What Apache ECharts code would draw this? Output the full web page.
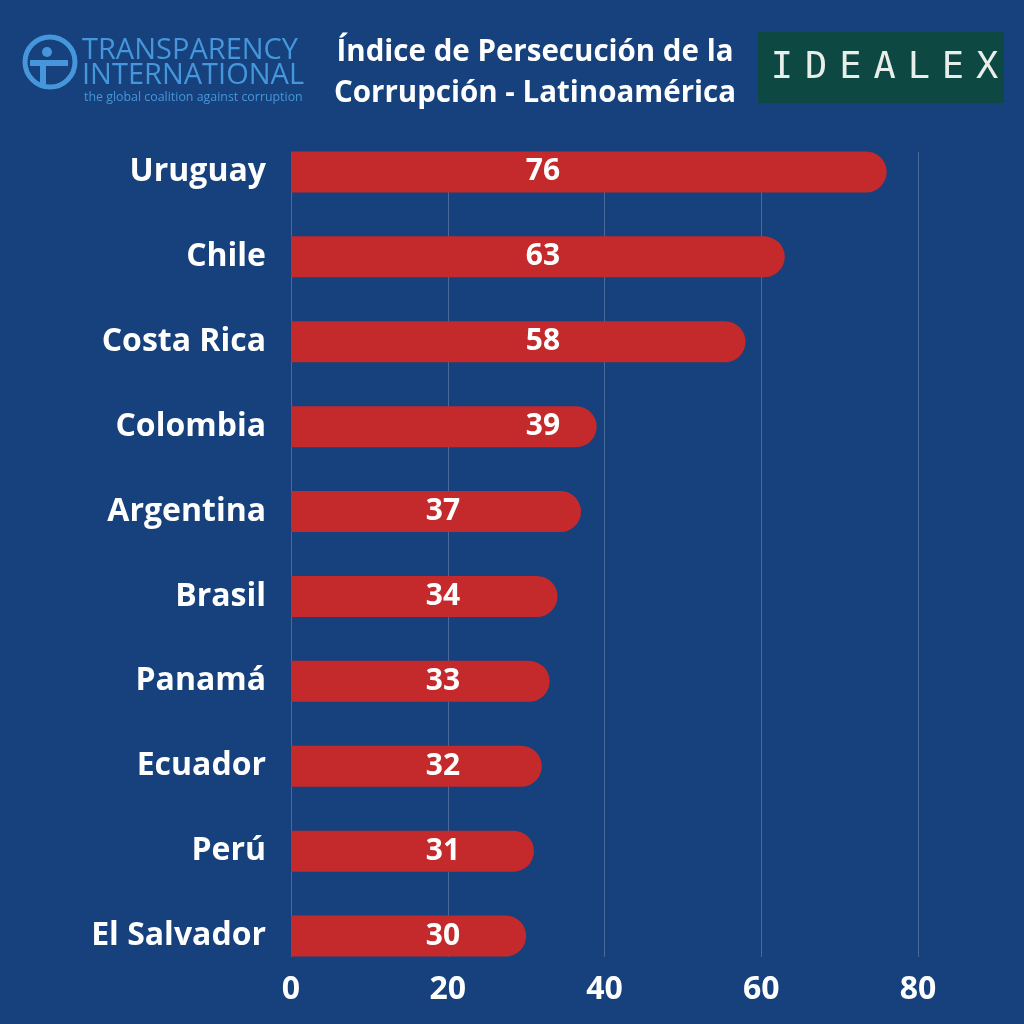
<!DOCTYPE html>
<html><head><meta charset="utf-8">
<script src="https://cdn.jsdelivr.net/npm/echarts@6/dist/echarts.min.js"></script>
<style>html,body{margin:0;padding:0;background:#16417C}#c{width:1024px;height:1024px}</style>
</head><body><div id="c"></div>
<script>
const categories = ['Uruguay','Chile','Costa Rica','Colombia','Argentina','Brasil','Panamá','Ecuador','Perú','El Salvador'];
const values = [76,63,58,39,37,34,33,32,31,30];
const titleLines = ['Índice de Persecución de la','Corrupción - Latinoamérica'];
const xTicks = [0,20,40,60,80];
const logoRight = 'IDEALEX';

const chart = echarts.init(document.getElementById('c'));
const bg = '#16417C', barColor = '#C4292B', tiBlue = '#4596DA';
const font = '"Open Sans", sans-serif';

const data = values.map(v => ({
  value: v,
  label: { position: [v >= 38 ? 252 : 152, '50%'] }
}));

const graphics = [
  { type: 'text', style: { x: 535, y: 53, text: titleLines[0], fill: '#fff', font: 'bold 29.5px ' + font, textAlign: 'center', textVerticalAlign: 'middle' } },
  { type: 'text', style: { x: 535, y: 94, text: titleLines[1], fill: '#fff', font: 'bold 29.5px ' + font, textAlign: 'center', textVerticalAlign: 'middle' } },
  { type: 'rect', shape: { x: 758, y: 32, width: 246, height: 71 }, style: { fill: '#0E4843' } },
  { type: 'circle', shape: { cx: 50, cy: 62, r: 25 }, style: { fill: 'none', stroke: tiBlue, lineWidth: 5 } },
  { type: 'circle', shape: { cx: 47, cy: 52, r: 5 }, style: { fill: tiBlue } },
  { type: 'rect', shape: { x: 40, y: 60, width: 6, height: 26 }, style: { fill: tiBlue } },
  { type: 'rect', shape: { x: 30, y: 60, width: 38, height: 6 }, style: { fill: tiBlue } },
  { type: 'text', style: { x: 82, y: 51, text: 'TRANSPARENCY', fill: tiBlue, font: '29px "Open Sans", sans-serif', textVerticalAlign: 'middle' } },
  { type: 'text', style: { x: 82, y: 76, text: 'INTERNATIONAL', fill: tiBlue, font: '29px "Open Sans", sans-serif', textVerticalAlign: 'middle' } },
  { type: 'text', style: { x: 84, y: 97, text: 'the global coalition against corruption', fill: tiBlue, font: '12.4px "Open Sans", sans-serif', textVerticalAlign: 'middle' } }
];
logoRight.split('').forEach((ch, i) => {
  graphics.push({ type: 'text', style: { x: 782 + i * 34.2, y: 68, text: ch, fill: '#E8EFEA',
    font: '37px "DejaVu Sans Mono", monospace', textAlign: 'center', textVerticalAlign: 'middle' } });
});

chart.setOption({
  backgroundColor: bg,
  animation: false,
  grid: [
    { left: 291, right: 106, top: 129.5, bottom: 45.5 },
    { left: 291, right: 106, top: 152, bottom: 67 }
  ],
  xAxis: [
    { gridIndex: 0, type: 'value', min: 0, max: 80, interval: 20, show: false },
    { gridIndex: 1, type: 'value', min: 0, max: 80, interval: 20,
      axisLine: { show: false }, axisTick: { show: false },
      splitLine: { show: true, lineStyle: { color: 'rgba(255,255,255,0.22)', width: 1 } },
      axisLabel: { color: '#fff', fontFamily: font, fontWeight: 'bold', fontSize: 32, margin: 17,
        formatter: v => xTicks.includes(v) ? String(v) : '' } }
  ],
  yAxis: [
    { gridIndex: 0, type: 'category', data: categories, inverse: true,
      axisLine: { show: false }, axisTick: { show: false },
      axisLabel: { color: '#fff', fontFamily: font, fontWeight: 'bold', fontSize: 32, margin: 25 } },
    { gridIndex: 1, type: 'value', show: false, min: 0, max: 1 }
  ],
  series: [{
    type: 'bar', xAxisIndex: 0, yAxisIndex: 0, data: data,
    barWidth: 41,
    itemStyle: { color: barColor, borderRadius: [0, 20.5, 20.5, 0] },
    label: { show: true, color: '#fff', fontFamily: font, fontWeight: 'bold', fontSize: 30,
      align: 'center', verticalAlign: 'middle' }
  }],
  graphic: graphics
});
</script></body></html>
